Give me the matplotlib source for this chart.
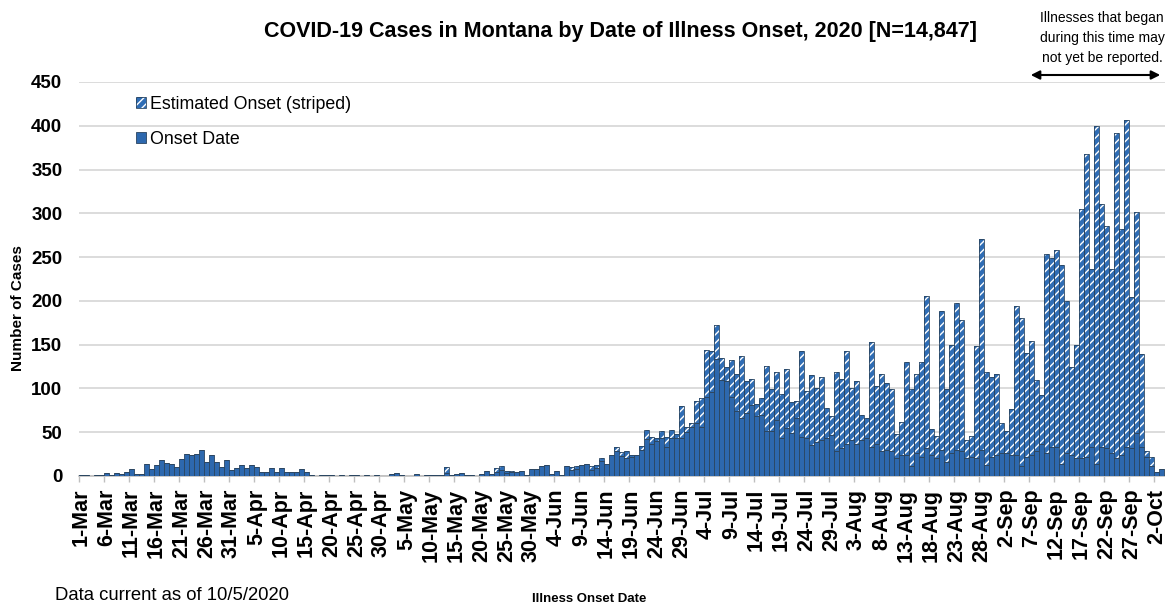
import matplotlib
matplotlib.use("Agg")
import matplotlib.pyplot as plt
import numpy as np
import pandas as pd
from matplotlib.patches import Patch, FancyArrowPatch

plt.rcParams['font.family'] = ['Liberation Sans', 'DejaVu Sans']
plt.rcParams['hatch.linewidth'] = 1.0

# one bar per day, 1-Mar-2020 .. 3-Oct-2020
dates = pd.date_range("2020-03-01", "2020-10-03", freq="D")

# total cases per day of illness onset (solid + striped)
total = [
    1, 1, 0, 1, 1, 3, 1, 3, 2, 5, 8, 2, 2, 14, 8, 12, 18, 15, 14, 10,
    19, 25, 24, 25, 30, 16, 24, 16, 10, 18, 7, 9, 13, 9, 13, 10, 5, 5, 9, 4,
    9, 4, 4, 4, 8, 4, 1, 0, 1, 1, 1, 0, 1, 0, 1, 1, 0, 1, 0, 1,
    0, 0, 2, 3, 1, 0, 0, 2, 0, 1, 1, 1, 1, 10, 1, 2, 3, 1, 1, 0,
    2, 6, 2, 9, 11, 6, 6, 4, 6, 1, 8, 8, 11, 13, 2, 6, 1, 11, 10, 11,
    12, 14, 11, 12, 20, 14, 24, 33, 27, 28, 24, 24, 34, 53, 45, 43, 51, 45, 53, 48,
    80, 56, 60, 86, 89, 144, 143, 173, 135, 125, 132, 117, 137, 108, 111, 82, 89, 126, 99, 119,
    94, 122, 85, 86, 143, 97, 115, 101, 113, 78, 68, 119, 111, 143, 101, 108, 70, 66, 153, 103,
    117, 106, 99, 48, 62, 130, 99, 117, 130, 206, 54, 46, 189, 99, 150, 198, 178, 41, 46, 148,
    271, 119, 113, 117, 61, 51, 77, 194, 181, 141, 154, 110, 92, 253, 249, 258, 241, 200, 125, 150,
    305, 368, 236, 400, 311, 286, 236, 392, 282, 407, 205, 302, 139, 28, 22, 4, 8,
]

# cases with a known onset date (solid part)
onset = [
    1, 1, 0, 1, 1, 3, 1, 3, 2, 5, 8, 2, 2, 14, 8, 12, 18, 15, 14, 10,
    19, 25, 24, 25, 30, 16, 24, 16, 10, 18, 7, 9, 13, 9, 13, 10, 5, 5, 9, 4,
    9, 4, 4, 4, 8, 4, 1, 0, 1, 1, 1, 0, 1, 0, 1, 1, 0, 1, 0, 1,
    0, 0, 2, 3, 1, 0, 0, 2, 0, 1, 1, 1, 1, 3, 1, 2, 3, 1, 1, 0,
    2, 6, 2, 5, 7, 3, 4, 4, 6, 1, 8, 8, 11, 13, 2, 6, 1, 11, 7, 8,
    12, 14, 7, 9, 17, 14, 24, 28, 23, 20, 22, 24, 30, 42, 37, 40, 43, 33, 43, 43,
    43, 50, 56, 60, 56, 90, 96, 134, 110, 109, 90, 74, 66, 72, 81, 68, 70, 51, 51, 64,
    43, 55, 49, 66, 45, 43, 35, 39, 41, 43, 47, 28, 32, 37, 41, 37, 41, 43, 33, 37,
    28, 30, 29, 20, 24, 24, 11, 26, 22, 32, 24, 20, 30, 16, 26, 30, 28, 20, 22, 20,
    30, 13, 22, 24, 26, 26, 24, 24, 11, 22, 24, 28, 37, 26, 33, 33, 14, 26, 24, 20,
    20, 22, 33, 14, 33, 32, 26, 20, 24, 33, 32, 49, 33, 22, 11, 4, 8,
]

estimated = [t - o for t, o in zip(total, onset)]
x = np.arange(len(dates))
tick_labels = [f"{d.day}-{d.strftime('%b')}" for d in dates[::5]]

solid_color = '#2D68AE'
stripe_color = '#2F6DB5'
edge_color = '#2A4560'

fig = plt.figure(figsize=(11.65, 6.09), dpi=100)
ax = fig.add_axes([79 / 1165, 1 - 476 / 609, 1086 / 1165, 394 / 609])

ax.bar(x, onset, width=0.85, color=solid_color, edgecolor=edge_color, linewidth=0.6, zorder=3)
ax.bar(x, estimated, bottom=onset, width=0.85, color=stripe_color, edgecolor='white',
       hatch='////', linewidth=0, zorder=3)
ax.bar(x, estimated, bottom=onset, width=0.85, fill=False, edgecolor=edge_color,
       linewidth=0.6, zorder=4)

ax.set_xlim(-0.5, 216.7)
ax.set_ylim(0, 450)
ax.set_yticks(np.arange(0, 451, 50))
ax.yaxis.grid(True, color='#D9D9D9', linewidth=1.3, zorder=0)
ax.set_axisbelow(True)
for s in ['top', 'right', 'left']:
    ax.spines[s].set_visible(False)
ax.spines['bottom'].set_color('#BFBFBF')
ax.spines['bottom'].set_linewidth(1.2)

ax.set_xticks(x[::5])
ax.set_xticklabels(tick_labels, rotation=90, fontsize=15.5, fontweight='bold')
ax.set_xticks(np.arange(-0.5, 216.7, 5), minor=True)
ax.tick_params(axis='x', which='major', length=0, pad=9)
ax.tick_params(axis='x', which='minor', length=4, color='#BFBFBF', width=1)
ax.tick_params(axis='y', length=0, pad=12, labelsize=13.5)
for lab in ax.get_yticklabels():
    lab.set_fontweight('bold')

fig.text(18 / 1165, 1 - 308 / 609, 'Number of Cases', rotation=90, ha='center', va='center',
         fontsize=11, fontweight='bold')
fig.text(620 / 1165, 1 - 32 / 609,
         'COVID-19 Cases in Montana by Date of Illness Onset, 2020 [N=14,847]',
         ha='center', va='center', fontsize=15.5, fontweight='bold')
fig.text(589 / 1165, 1 - 599 / 609, 'Illness Onset Date', ha='center', va='center',
         fontsize=9.5, fontweight='bold')
fig.text(55 / 1165, 1 - 596 / 609, 'Data current as of 10/5/2020', ha='left', va='center',
         fontsize=13.3)

fig.text(1102 / 1165, 1 - 38 / 609,
         'Illnesses that began\nduring this time may\nnot yet be reported.',
         ha='center', va='center', fontsize=10, linespacing=1.55)
fig.add_artist(FancyArrowPatch(posA=(1028 / 1165, 1 - 75 / 609), posB=(1163 / 1165, 1 - 75 / 609),
                               transform=fig.transFigure, arrowstyle='<|-|>',
                               mutation_scale=13, color='black', lw=1.5))

h_est = (Patch(facecolor=stripe_color, edgecolor='white', hatch='////', linewidth=0),
         Patch(fill=False, edgecolor=edge_color, linewidth=0.6))
h_on = Patch(facecolor=solid_color, edgecolor=edge_color, linewidth=0.6)
fig.legend([h_est, h_on], ['Estimated Onset (striped)', 'Onset Date'],
           loc='upper left', bbox_to_anchor=(127 / 1165, 1 - 87 / 609), frameon=False,
           fontsize=12.8, borderpad=0, handlelength=0.55, handleheight=0.55,
           handletextpad=0.25, labelspacing=1.0)

fig.savefig('out.png', dpi=100)
